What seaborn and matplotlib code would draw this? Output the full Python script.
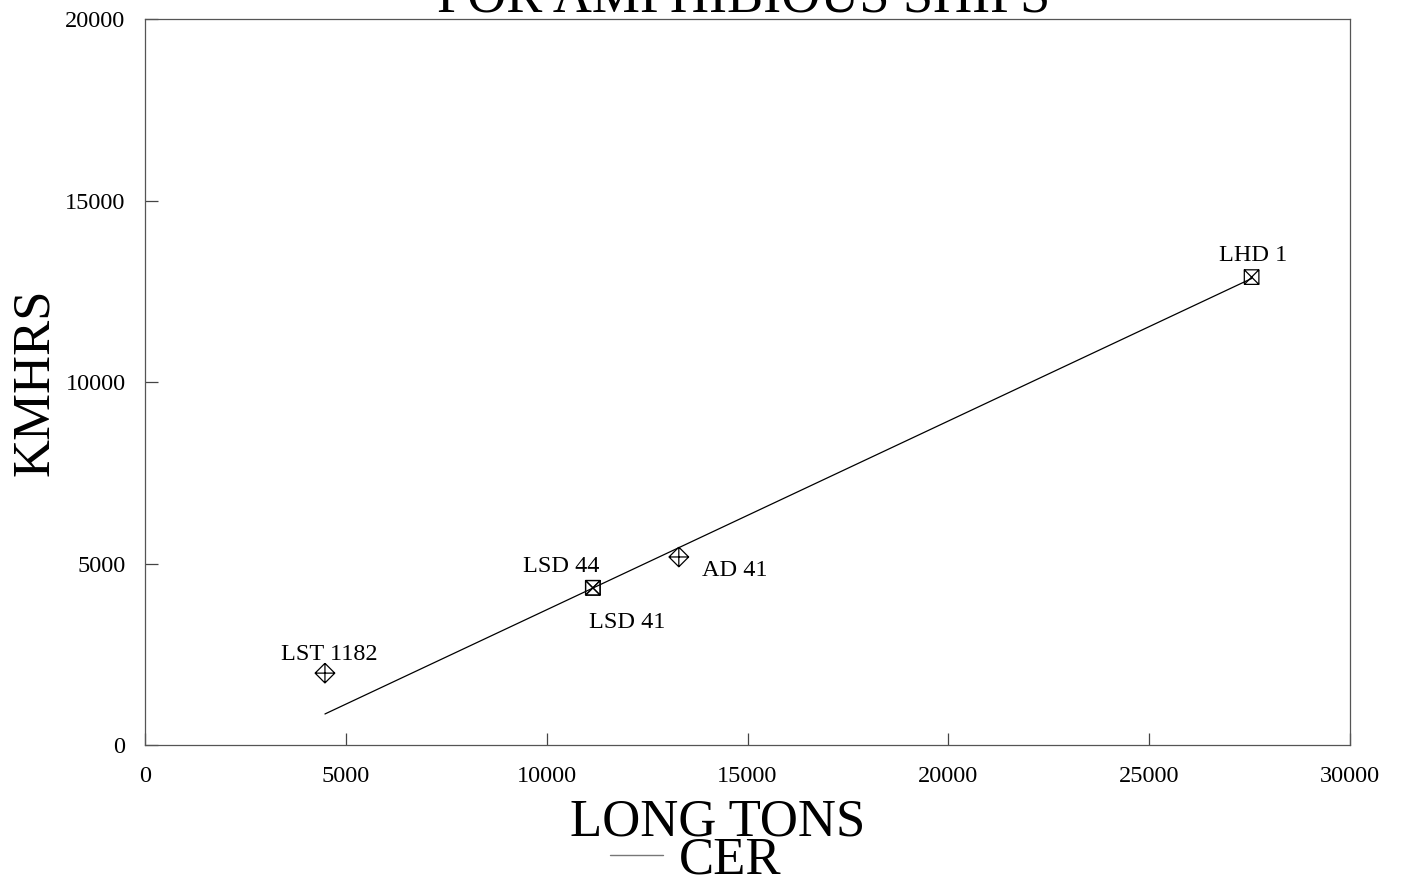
import numpy as np
import pandas as pd
import matplotlib
matplotlib.use("Agg")
import matplotlib.pyplot as plt
from matplotlib.path import Path
from matplotlib.lines import Line2D
import seaborn as sns

# Ship data: displacement (long tons) vs. maintenance hours (KMHRS)
ships = ["LST 1182", "LSD 44", "LSD 41", "AD 41", "LHD 1"]
long_tons = [4480, 11150, 11150, 13290, 27550]
kmhrs = [1980, 4330, 4330, 5180, 12890]
ship_kind = ["diamond", "square", "square", "diamond", "square"]

# Cost estimating relationship (CER) fit coefficients
cer_slope = 0.52
cer_intercept = -1475

# Label placement offsets (pixels): (dx of text centre, dy of baseline)
label_offsets = {
    "LST 1182": (4, 13),
    "LSD 44": (-32, 16),
    "LSD 41": (34, -40),
    "AD 41": (56, -19),
    "LHD 1": (2, 16),
}

df = pd.DataFrame({"ship": ships, "tons": long_tons, "kmhrs": kmhrs, "kind": ship_kind})

sns.set_theme(style="ticks")
plt.rcParams["font.family"] = ["Liberation Serif", "DejaVu Serif"]

fig = plt.figure(figsize=(14.03, 8.80), dpi=100)
ax = fig.add_axes([145 / 1403, 1 - 745 / 880, 1205 / 1403, 726 / 880])

# Marker shapes: diamond with a cross, square with an X
diamond_plus = Path(
    [(0, 1), (1, 0), (0, -1), (-1, 0), (0, 1), (0, 1), (0, -1), (-1, 0), (1, 0)],
    [Path.MOVETO, Path.LINETO, Path.LINETO, Path.LINETO, Path.LINETO,
     Path.MOVETO, Path.LINETO, Path.MOVETO, Path.LINETO],
)
square_x = Path(
    [(-1, -1), (1, -1), (1, 1), (-1, 1), (-1, -1), (-1, -1), (1, 1), (-1, 1), (1, -1)],
    [Path.MOVETO, Path.LINETO, Path.LINETO, Path.LINETO, Path.LINETO,
     Path.MOVETO, Path.LINETO, Path.MOVETO, Path.LINETO],
)

sns.scatterplot(data=df[df.kind == "diamond"], x="tons", y="kmhrs", marker=diamond_plus,
                s=200, facecolor="none", edgecolor="black", linewidth=0.9, ax=ax, legend=False)
sns.scatterplot(data=df[df.kind == "square"], x="tons", y="kmhrs", marker=square_x,
                s=110, facecolor="none", edgecolor="black", linewidth=0.9, ax=ax, legend=False)

# CER line across the data range
fit_x = np.array([min(long_tons), max(long_tons)])
fit_y = cer_slope * fit_x + cer_intercept
sns.lineplot(x=fit_x, y=fit_y, color="black", linewidth=0.9, ax=ax, legend=False)

for name, xv, yv in zip(ships, long_tons, kmhrs):
    dx, dy = label_offsets[name]
    ax.annotate(name, (xv, yv), xytext=(dx, dy), textcoords="offset pixels",
                ha="center", va="baseline", fontsize=17.5, color="black")

ax.set_xlim(0, 30000)
ax.set_ylim(0, 20000)
ax.set_xticks(np.arange(0, 30001, 5000))
ax.set_yticks(np.arange(0, 20001, 5000))
ax.tick_params(direction="in", length=9, width=0.9, colors="#444444",
               labelcolor="black", labelsize=17.5)
ax.tick_params(axis="x", pad=15)
ax.tick_params(axis="y", pad=14)
for sp in ax.spines.values():
    sp.set_color("#555555")
    sp.set_linewidth(0.9)

ax.set_xlabel("LONG TONS", fontsize=38, color="black")
ax.set_ylabel("KMHRS", fontsize=38, color="black")
ax.xaxis.set_label_coords(0.4755, -0.124)
ax.xaxis.label.set_va("baseline")
ax.yaxis.set_label_coords(-0.091, 0.5)
ax.yaxis.label.set_va("center")

fig.text(0.53, 1 - 12 / 880, "FOR AMPHIBIOUS SHIPS", ha="center", va="baseline",
         fontsize=39, color="black")

legend_handle = Line2D([0], [0], color="#777777", linewidth=1.0)
fig.legend([legend_handle], ["CER"], loc="lower center", bbox_to_anchor=(0.496, -0.059),
           frameon=False, fontsize=38, handlelength=1.0, handletextpad=0.3,
           labelcolor="black")

fig.savefig("out.png", dpi=100)
